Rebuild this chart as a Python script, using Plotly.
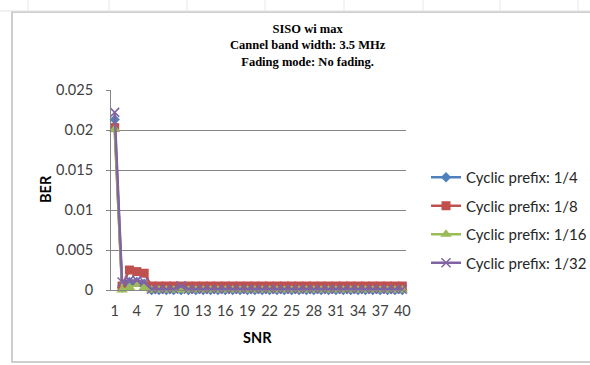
import plotly.graph_objects as go

# SNR categories 1..40
snr = list(range(1, 41))

# Bit error rate per cyclic prefix setting
ber_cp_1_4 = [0.0213, 0.0003, 0.0010, 0.0010, 0.0008, 0.0, 0.0, 0.0, 0.0, 0.0,
              0.0, 0.0, 0.0, 0.0, 0.0, 0.0, 0.0, 0.0, 0.0, 0.0,
              0.0, 0.0, 0.0, 0.0, 0.0, 0.0, 0.0, 0.0, 0.0, 0.0,
              0.0, 0.0, 0.0, 0.0, 0.0, 0.0, 0.0, 0.0, 0.0, 0.0]
ber_cp_1_8 = [0.0203, 0.0005, 0.0025, 0.0023, 0.0021, 0.0005, 0.0005, 0.0005, 0.0005, 0.0005,
              0.0005, 0.0005, 0.0005, 0.0005, 0.0005, 0.0005, 0.0005, 0.0005, 0.0005, 0.0005,
              0.0005, 0.0005, 0.0005, 0.0005, 0.0005, 0.0005, 0.0005, 0.0005, 0.0005, 0.0005,
              0.0005, 0.0005, 0.0005, 0.0005, 0.0005, 0.0005, 0.0005, 0.0005, 0.0005, 0.0005]
ber_cp_1_16 = [0.0201, 0.0, 0.0003, 0.0007, 0.0003, 0.0, 0.0, 0.0, 0.0, 0.0,
               0.0, 0.0, 0.0, 0.0, 0.0, 0.0, 0.0, 0.0, 0.0, 0.0,
               0.0, 0.0, 0.0, 0.0, 0.0, 0.0, 0.0, 0.0, 0.0, 0.0,
               0.0, 0.0, 0.0, 0.0, 0.0, 0.0, 0.0, 0.0, 0.0, 0.0]
ber_cp_1_32 = [0.0222, 0.0010, 0.0012, 0.0012, 0.0010, 0.0001, 0.0001, 0.0001, 0.0001, 0.0005,
               0.0001, 0.0001, 0.0001, 0.0001, 0.0001, 0.0001, 0.0001, 0.0001, 0.0001, 0.0001,
               0.0001, 0.0001, 0.0001, 0.0001, 0.0001, 0.0001, 0.0001, 0.0001, 0.0001, 0.0001,
               0.0001, 0.0001, 0.0001, 0.0001, 0.0001, 0.0001, 0.0001, 0.0001, 0.0001, 0.0001]

series_names = ["Cyclic prefix: 1/4", "Cyclic prefix: 1/8",
                "Cyclic prefix: 1/16", "Cyclic prefix: 1/32"]

x_tick_vals = [1, 4, 7, 10, 13, 16, 19, 22, 25, 28, 31, 34, 37, 40]
y_tick_vals = [0, 0.005, 0.01, 0.015, 0.02, 0.025]
y_tick_text = ["0", "0.005", "0.01", "0.015", "0.02", "0.025"]

title_lines = ["SISO wi max", "Cannel band width: 3.5 MHz", "Fading mode: No fading."]

W, H = 590, 365
ML, MR, MT, MB = 111, 184, 90, 75
PW, PH = W - ML - MR, H - MT - MB


def px_x(p):
    return (p - ML) / PW


def px_y(p):
    return (H - MB - p) / PH


styles = [
    dict(color="#4F81BD", symbol="diamond", size=8),
    dict(color="#C0504D", symbol="square", size=9),
    dict(color="#9BBB59", symbol="triangle-up", size=10),
    dict(color="#8064A2", symbol="x-thin", size=9),
]

fig = go.Figure()
for name, ys, st in zip(series_names,
                        [ber_cp_1_4, ber_cp_1_8, ber_cp_1_16, ber_cp_1_32], styles):
    marker = dict(symbol=st["symbol"], size=st["size"], color=st["color"])
    if st["symbol"] == "x-thin":
        marker["line"] = dict(color=st["color"], width=1.5)
    fig.add_trace(go.Scatter(
        x=snr, y=ys, name=name, mode="lines+markers",
        line=dict(color=st["color"], width=2.5),
        marker=marker, cliponaxis=False, legendgroup=name,
    ))

tick_font = dict(family="Lato, Open Sans, sans-serif", size=14.5, color="#404040")

fig.update_layout(
    width=W, height=H,
    margin=dict(l=ML, r=MR, t=MT, b=MB, autoexpand=False),
    paper_bgcolor="white", plot_bgcolor="white",
    showlegend=True,
    legend=dict(
        x=px_x(426), y=px_y(161), xanchor="left", yanchor="top",
        font=dict(family="Lato, Open Sans, sans-serif", size=15, color="#262626"),
        tracegroupgap=6, bgcolor="rgba(0,0,0,0)",
    ),
    xaxis=dict(
        range=[0.5, 40.5], tickmode="array", tickvals=x_tick_vals,
        showgrid=False, zeroline=False, showline=True, linecolor="#868686",
        linewidth=1, ticks="", tickfont=tick_font, ticklabelstandoff=8,
    ),
    yaxis=dict(
        range=[0, 0.025], tickmode="array", tickvals=y_tick_vals, ticktext=y_tick_text,
        showgrid=True, gridcolor="#868686", gridwidth=1, zeroline=False,
        showline=True, linecolor="#868686", linewidth=1,
        ticks="outside", ticklen=4, tickcolor="#868686",
        tickfont=tick_font, ticklabelstandoff=10,
    ),
)

# Three-line chart title, centred on the chart area
fig.add_annotation(
    text="<br>".join("<b>%s</b>" % line for line in title_lines),
    x=px_x(308), y=px_y(45.5), xref="paper", yref="paper",
    xanchor="center", yanchor="middle", align="center", showarrow=False,
    font=dict(family="Liberation Serif, Times New Roman, serif", size=12.5, color="#000000"),
)

# Axis titles
axis_title_font = dict(family="Lato, Open Sans, sans-serif", size=14.5, color="#000000")
fig.add_annotation(text="<b>SNR</b>", x=px_x(257), y=px_y(337), xref="paper", yref="paper",
                   xanchor="center", yanchor="middle", showarrow=False, font=axis_title_font)
fig.add_annotation(text="<b>BER</b>", x=px_x(45), y=px_y(189), xref="paper", yref="paper",
                   xanchor="center", yanchor="middle", showarrow=False, textangle=-90,
                   font=axis_title_font)

# Chart-area frame
x0, y0, x1, y1 = px_x(12), px_y(12), px_x(620), px_y(362)
frame_path = "M %f %f L %f %f L %f %f L %f %f Z" % (x0, y0, x1, y0, x1, y1, x0, y1)
fig.add_shape(type="path", path=frame_path, xref="paper", yref="paper",
              line=dict(color="#BFBFBF", width=1.5), fillcolor="rgba(0,0,0,0)", layer="below")

# Faint sheet header above the chart
fig.add_shape(type="line", xref="paper", yref="paper", x0=px_x(0), x1=px_x(590),
              y0=px_y(11), y1=px_y(11), line=dict(color="#E3E3E3", width=1), layer="below")
for cx in [28, 109, 187, 265, 344, 423, 500, 578]:
    fig.add_shape(type="line", xref="paper", yref="paper", x0=px_x(cx), x1=px_x(cx),
                  y0=px_y(0), y1=px_y(11), line=dict(color="#E8E8E8", width=1), layer="below")

fig.write_html("out.html")
